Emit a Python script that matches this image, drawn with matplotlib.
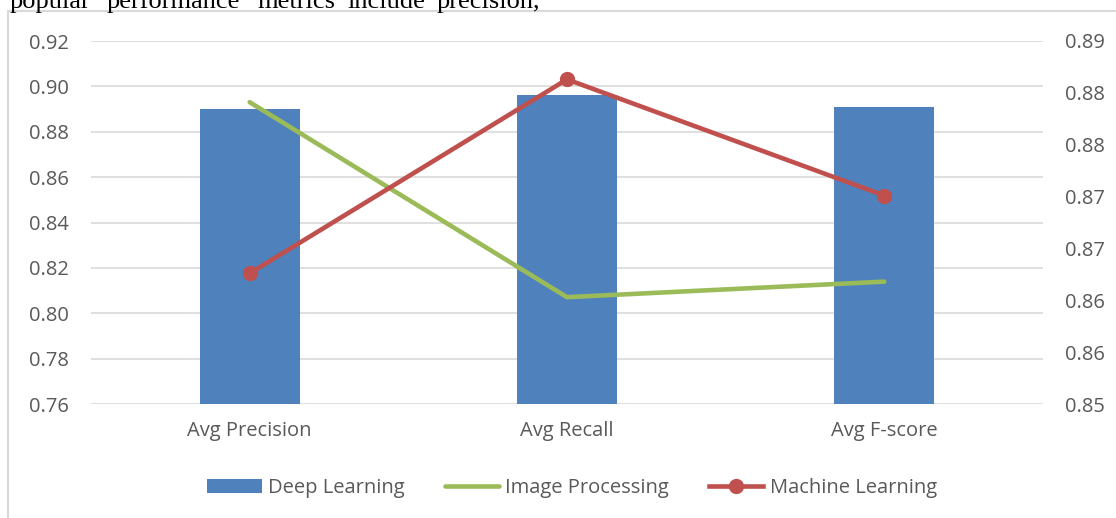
import matplotlib.pyplot as plt
from matplotlib.patches import Rectangle
import numpy as np

# data
categories = ["Avg Precision", "Avg Recall", "Avg F-score"]
deep_learning = [0.890, 0.896, 0.891]
image_processing = [0.8791, 0.8603, 0.8618]
machine_learning = [0.8626, 0.8813, 0.8701]

left_ticks = [0.76, 0.78, 0.80, 0.82, 0.84, 0.86, 0.88, 0.90, 0.92]
right_ticks = [0.850, 0.855, 0.860, 0.865, 0.870, 0.875, 0.880, 0.885]
right_labels = ["0.85", "0.86", "0.86", "0.87", "0.87", "0.88", "0.88", "0.89"]

plt.rcParams['font.family'] = ['Open Sans', 'DejaVu Sans']
grey = "#595959"

fig = plt.figure(figsize=(11.16, 5.18), dpi=100)
W, H = 1116, 518
ax = fig.add_axes([91 / W, 1 - 404 / H, (1043 - 91) / W, (404 - 41) / H])

x = np.arange(len(categories))
ax.bar(x, deep_learning, width=0.315, color="#4F81BD", label="Deep Learning", zorder=2)
ax.set_ylim(0.76, 0.92)
ax.set_yticks(left_ticks)
ax.set_yticklabels([f"{t:.2f}" for t in left_ticks])
ax.set_xlim(-0.5, 2.5)
ax.set_xticks(x)
ax.set_xticklabels(categories)
ax.grid(axis="y", color="#D9D9D9", linewidth=1.2, zorder=0)
ax.set_axisbelow(True)
for s in ax.spines.values():
    s.set_visible(False)
ax.tick_params(length=0, labelsize=14.5, colors=grey)
ax.tick_params(axis="y", pad=16)
ax.tick_params(axis="x", pad=12)

ax2 = ax.twinx()
ax2.plot(x, image_processing, color="#9BBB59", linewidth=3.3, solid_capstyle="round",
         label="Image Processing")
ax2.plot(x, machine_learning, color="#C0504D", linewidth=3.3, marker="o", markersize=10,
         label="Machine Learning")
ax2.set_ylim(0.85, 0.885)
ax2.set_yticks(right_ticks)
ax2.set_yticklabels(right_labels)
for s in ax2.spines.values():
    s.set_visible(False)
ax2.tick_params(length=0, labelsize=14.5, colors=grey, pad=16)

h1, l1 = ax.get_legend_handles_labels()
h2, l2 = ax2.get_legend_handles_labels()
fig.legend(h1 + h2, l1 + l2, loc="center", bbox_to_anchor=(572 / W, 1 - 488 / H),
           ncol=3, frameon=False, fontsize=14.5, labelcolor=grey,
           handlelength=2.7, handletextpad=0.3, columnspacing=2.0)

# chart frame (runs off the right and bottom edges)
fig.patches.append(Rectangle((8 / W, -0.1), 1.2, 1 - 11 / H + 0.1, transform=fig.transFigure,
                             fill=False, edgecolor="#D9D9D9", linewidth=1.5))

# cut-off document text above the chart
words = ["popular", "performance", "metrics", "include", "precision,"]
xs = [10, 107, 257, 347, 437]
for w, xp in zip(words, xs):
    fig.text(xp / W, 1 - 8 / H, w, family="Liberation Serif", fontsize=19,
             color="black", va="baseline")

fig.savefig("out.png", dpi=100)
